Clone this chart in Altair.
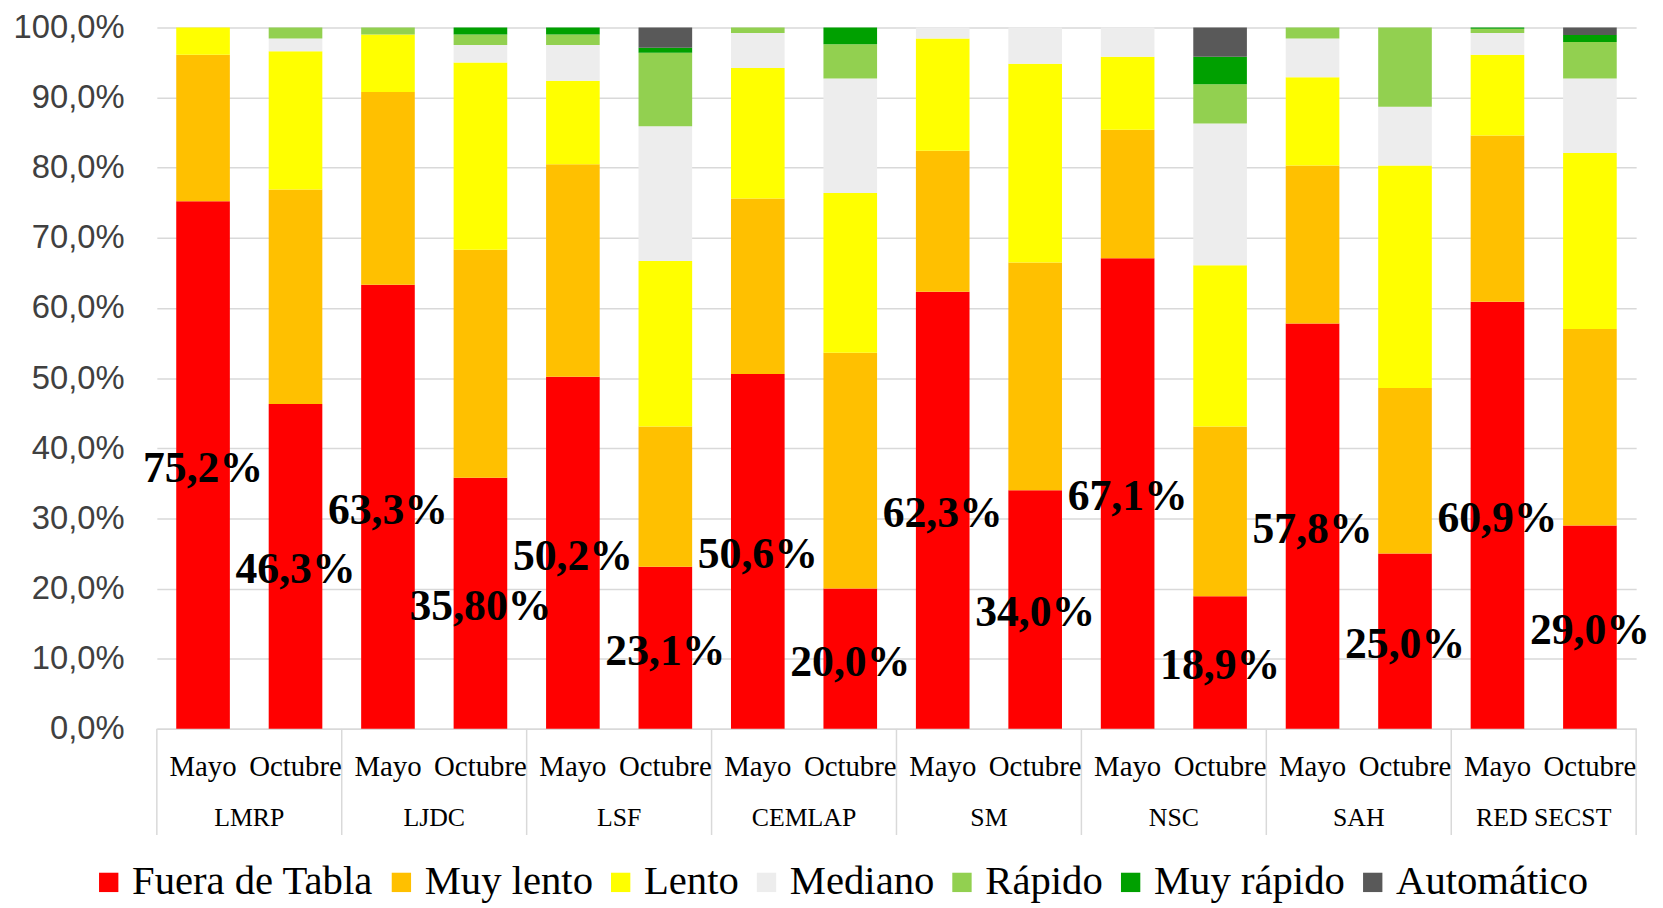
import altair as alt
import pandas as pd

groups = ["LMRP", "LJDC", "LSF", "CEMLAP", "SM", "NSC", "SAH", "RED SECST"]
months = ["Mayo", "Octubre"]
categories = ["Fuera de Tabla", "Muy lento", "Lento", "Mediano", "Rápido", "Muy rápido", "Automático"]
colors = ["#FF0000", "#FFC000", "#FFFF00", "#EDEDED", "#92D050", "#00A000", "#595959"]

# values per bar, order: group x month (Mayo, Octubre)
fuera = [75.2, 46.3, 63.3, 35.8, 50.2, 23.1, 50.6, 20.0, 62.3, 34.0, 67.1, 18.9, 57.8, 25.0, 60.9, 29.0]
muy_lento = [20.9, 30.6, 27.5, 32.5, 30.3, 20.0, 25.0, 33.6, 20.1, 32.5, 18.3, 24.2, 22.5, 23.6, 23.7, 28.0]
lento = [3.9, 19.7, 8.2, 26.7, 11.9, 23.6, 18.6, 22.8, 16.0, 28.3, 10.4, 23.0, 12.6, 31.7, 11.5, 25.1]
mediano = [0.0, 1.8, 0.0, 2.5, 5.1, 19.2, 5.0, 16.3, 1.6, 5.2, 4.2, 20.2, 5.5, 8.4, 3.1, 10.6]
rapido = [0.0, 1.6, 1.0, 1.5, 1.5, 10.5, 0.8, 4.9, 0.0, 0.0, 0.0, 5.6, 1.6, 11.3, 0.6, 5.2]
muy_rapido = [0.0, 0.0, 0.0, 1.0, 1.0, 0.7, 0.0, 2.4, 0.0, 0.0, 0.0, 3.9, 0.0, 0.0, 0.2, 1.0]
automatico = [0.0, 0.0, 0.0, 0.0, 0.0, 2.9, 0.0, 0.0, 0.0, 0.0, 0.0, 4.2, 0.0, 0.0, 0.0, 1.1]
labels = ["75,2%", "46,3%", "63,3%", "35,80%", "50,2%", "23,1%", "50,6%", "20,0%",
          "62,3%", "34,0%", "67,1%", "18,9%", "57,8%", "25,0%", "60,9%", "29,0%"]
y_ticks = [0, 10, 20, 30, 40, 50, 60, 70, 80, 90, 100]

series = [fuera, muy_lento, lento, mediano, rapido, muy_rapido, automatico]

rows = []
lab_rows = []
for i, g in enumerate(groups):
    for j, m in enumerate(months):
        k = 2 * i + j
        for c, (cat, vals) in enumerate(zip(categories, series)):
            rows.append({"grupo": g, "mes": m, "cat": cat, "orden": c, "valor": vals[k]})
        lab_rows.append({"grupo": g, "mes": m, "fuera": fuera[k], "texto": labels[k]})
df = pd.DataFrame(rows)
lab = pd.DataFrame(lab_rows)
grp = pd.DataFrame({"grupo": groups})

W, H = 1491, 707
GRID = "#D9D9D9"

x_enc = alt.X(
    "grupo:N", sort=groups,
    scale=alt.Scale(paddingInner=0, paddingOuter=0),
    axis=alt.Axis(title=None, labelAngle=0, ticks=False, domain=True, domainColor=GRID,
                  domainWidth=1.5, labelFont="Liberation Serif", labelFontSize=26,
                  labelColor="#000000", labelPadding=76, grid=False, labelBaseline="top"),
)
xo_enc = alt.XOffset("mes:N", sort=months, scale=alt.Scale(paddingInner=0.42, paddingOuter=0.21))

bars = alt.Chart(df).mark_bar().encode(
    x=x_enc,
    xOffset=xo_enc,
    y=alt.Y(
        "valor:Q", stack="zero",
        scale=alt.Scale(domain=[0, 100], nice=False),
        axis=alt.Axis(title=None, values=y_ticks,
                      labelExpr="replace(format(datum.value, '.1f'), '.', ',') + '%'",
                      labelFont="Liberation Sans", labelFontSize=33, labelColor="#404040",
                      labelPadding=33, ticks=False, domain=False, grid=True,
                      gridColor=GRID, gridWidth=1.5),
    ),
    color=alt.Color(
        "cat:N", sort=categories,
        scale=alt.Scale(domain=categories, range=colors),
        legend=alt.Legend(title=None, orient="none", direction="horizontal", columns=7,
                          legendX=-69, legendY=841, symbolType="square", symbolSize=380,
                          symbolStrokeWidth=0, labelFont="Liberation Serif", labelFontSize=41,
                          labelColor="#000000", columnPadding=7, labelOffset=3, labelLimit=400),
    ),
    order=alt.Order("orden:Q", sort="ascending"),
)

texts = alt.Chart(lab).transform_calculate(
    mid="datum.fuera / 2"
).mark_text(
    font="Liberation Serif", fontSize=44, fontWeight="bold", color="#000000",
    align="center", baseline="middle", dy=4,
).encode(
    x=alt.X("grupo:N", sort=groups),
    xOffset=alt.XOffset("mes:N", sort=months),
    y=alt.Y("mid:Q"),
    text="texto:N",
)

month_text = alt.Chart(lab).mark_text(
    font="Liberation Serif", fontSize=29, color="#000000", align="center", baseline="middle",
).encode(
    x=alt.X("grupo:N", sort=groups),
    xOffset=alt.XOffset("mes:N", sort=months),
    y=alt.value(H + 39),
    text="mes:N",
)

seps = alt.Chart(grp).mark_rule(color=GRID, strokeWidth=1.5).encode(
    x=alt.X("grupo:N", sort=groups, bandPosition=0),
    y=alt.value(H),
    y2=alt.value(H + 107),
)
sep_end = alt.Chart(pd.DataFrame({"a": [0]})).mark_rule(color=GRID, strokeWidth=1.5).encode(
    x=alt.value(W),
    y=alt.value(H),
    y2=alt.value(H + 107),
)

chart = alt.layer(bars, seps, sep_end, month_text, texts).properties(
    width=W, height=H,
    padding={"left": 5, "top": 0, "right": 5, "bottom": 0},
).configure_view(stroke=None)

chart.save("out.html", embed_options={"renderer": "svg", "actions": False})
